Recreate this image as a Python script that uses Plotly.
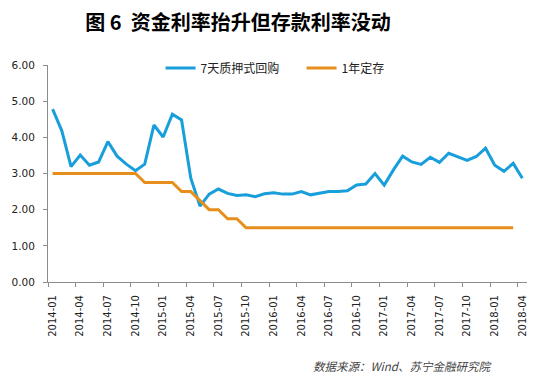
import plotly.graph_objects as go

months = []
for yr in range(2014, 2019):
    for m in range(1, 13):
        if yr == 2018 and m > 4:
            break
        months.append(f"{yr}-{m:02d}")

repo_7d = [4.78, 4.18, 3.19, 3.51, 3.23, 3.32, 3.88, 3.48, 3.26, 3.08,
           3.26, 4.34, 4.01, 4.64, 4.48, 2.87, 2.10, 2.43, 2.57, 2.45,
           2.39, 2.41, 2.36, 2.44, 2.47, 2.43, 2.43, 2.50, 2.41, 2.45,
           2.50, 2.50, 2.52, 2.68, 2.71, 3.00, 2.68, 3.10, 3.48, 3.32,
           3.25, 3.45, 3.31, 3.56, 3.47, 3.36, 3.47, 3.70, 3.23, 3.06,
           3.28, 2.87]

deposit_1y = [3.00, 3.00, 3.00, 3.00, 3.00, 3.00, 3.00, 3.00, 3.00, 3.00,
              2.75, 2.75, 2.75, 2.75, 2.50, 2.50, 2.25, 2.00, 2.00, 1.75,
              1.75, 1.50, 1.50, 1.50, 1.50, 1.50, 1.50, 1.50, 1.50, 1.50,
              1.50, 1.50, 1.50, 1.50, 1.50, 1.50, 1.50, 1.50, 1.50, 1.50,
              1.50, 1.50, 1.50, 1.50, 1.50, 1.50, 1.50, 1.50, 1.50, 1.50,
              1.50]

series_names = ["7天质押式回购", "1年定存"]
title_text = "图 6  资金利率抬升但存款利率没动"
source_text = "数据来源：Wind、苏宁金融研究院"
y_ticks = [0, 1, 2, 3, 4, 5, 6]

idx = list(range(len(months)))
tick_idx = idx[::3]
tick_lab = months[::3]

fig = go.Figure()
fig.add_trace(go.Scatter(x=idx, y=repo_7d, mode="lines", name=series_names[0],
                         line=dict(color="#189FDB", width=3)))
fig.add_trace(go.Scatter(x=idx[:len(deposit_1y)], y=deposit_1y, mode="lines",
                         name=series_names[1],
                         line=dict(color="#E68F1C", width=3)))

axis_col = "#8C8C8C"
fig.update_layout(
    width=556, height=377,
    margin=dict(l=48, r=29, t=65, b=95, autoexpand=False),
    paper_bgcolor="white", plot_bgcolor="white",
    font=dict(family="DejaVu Sans, Noto Sans CJK SC", size=10.5, color="#222"),
    title=dict(text="<b>" + title_text + "</b>", x=0.428, xanchor="center",
               y=1 - 23 / 377, yanchor="middle", yref="container",
               font=dict(family="Noto Sans CJK SC", size=20, color="#000")),
    showlegend=True,
    legend=dict(orientation="h", x=0.235, xanchor="left", y=0.986, yanchor="middle",
                font=dict(family="Noto Sans CJK SC", size=12, color="#222"),
                entrywidth=96, bgcolor="rgba(0,0,0,0)", tracegroupgap=0),
    xaxis=dict(range=[-0.5, len(months) - 0.5], tickmode="array",
               tickvals=tick_idx, ticktext=tick_lab, tickangle=-90,
               ticks="", showgrid=False, zeroline=False,
               showline=True, linecolor=axis_col, linewidth=1,
               minor=dict(tick0=-0.5, dtick=3, ticks="outside", ticklen=4,
                          tickcolor=axis_col, showgrid=False),
               ticklabelstandoff=8,
               tickfont=dict(size=10, color="#222")),
    yaxis=dict(range=[0, 6], tickmode="array", tickvals=y_ticks,
               tickformat=".2f", ticks="outside", ticklen=4, tickcolor=axis_col,
               showgrid=False, zeroline=False, showline=True,
               linecolor=axis_col, linewidth=1, ticklabelstandoff=6,
               tickfont=dict(size=10.5, color="#222")),
)

fig.add_annotation(text=source_text, xref="paper", yref="paper",
                   x=(493 - 48) / 479, y=(282 - 366) / 217,
                   xanchor="right", yanchor="middle", showarrow=False,
                   font=dict(family="Noto Sans CJK SC", size=11.5, color="#444",
                             style="italic"))

fig.write_html("out.html", config={"displayModeBar": False},
               post_script="document.body.style.margin='0';document.body.style.overflow='hidden';")
